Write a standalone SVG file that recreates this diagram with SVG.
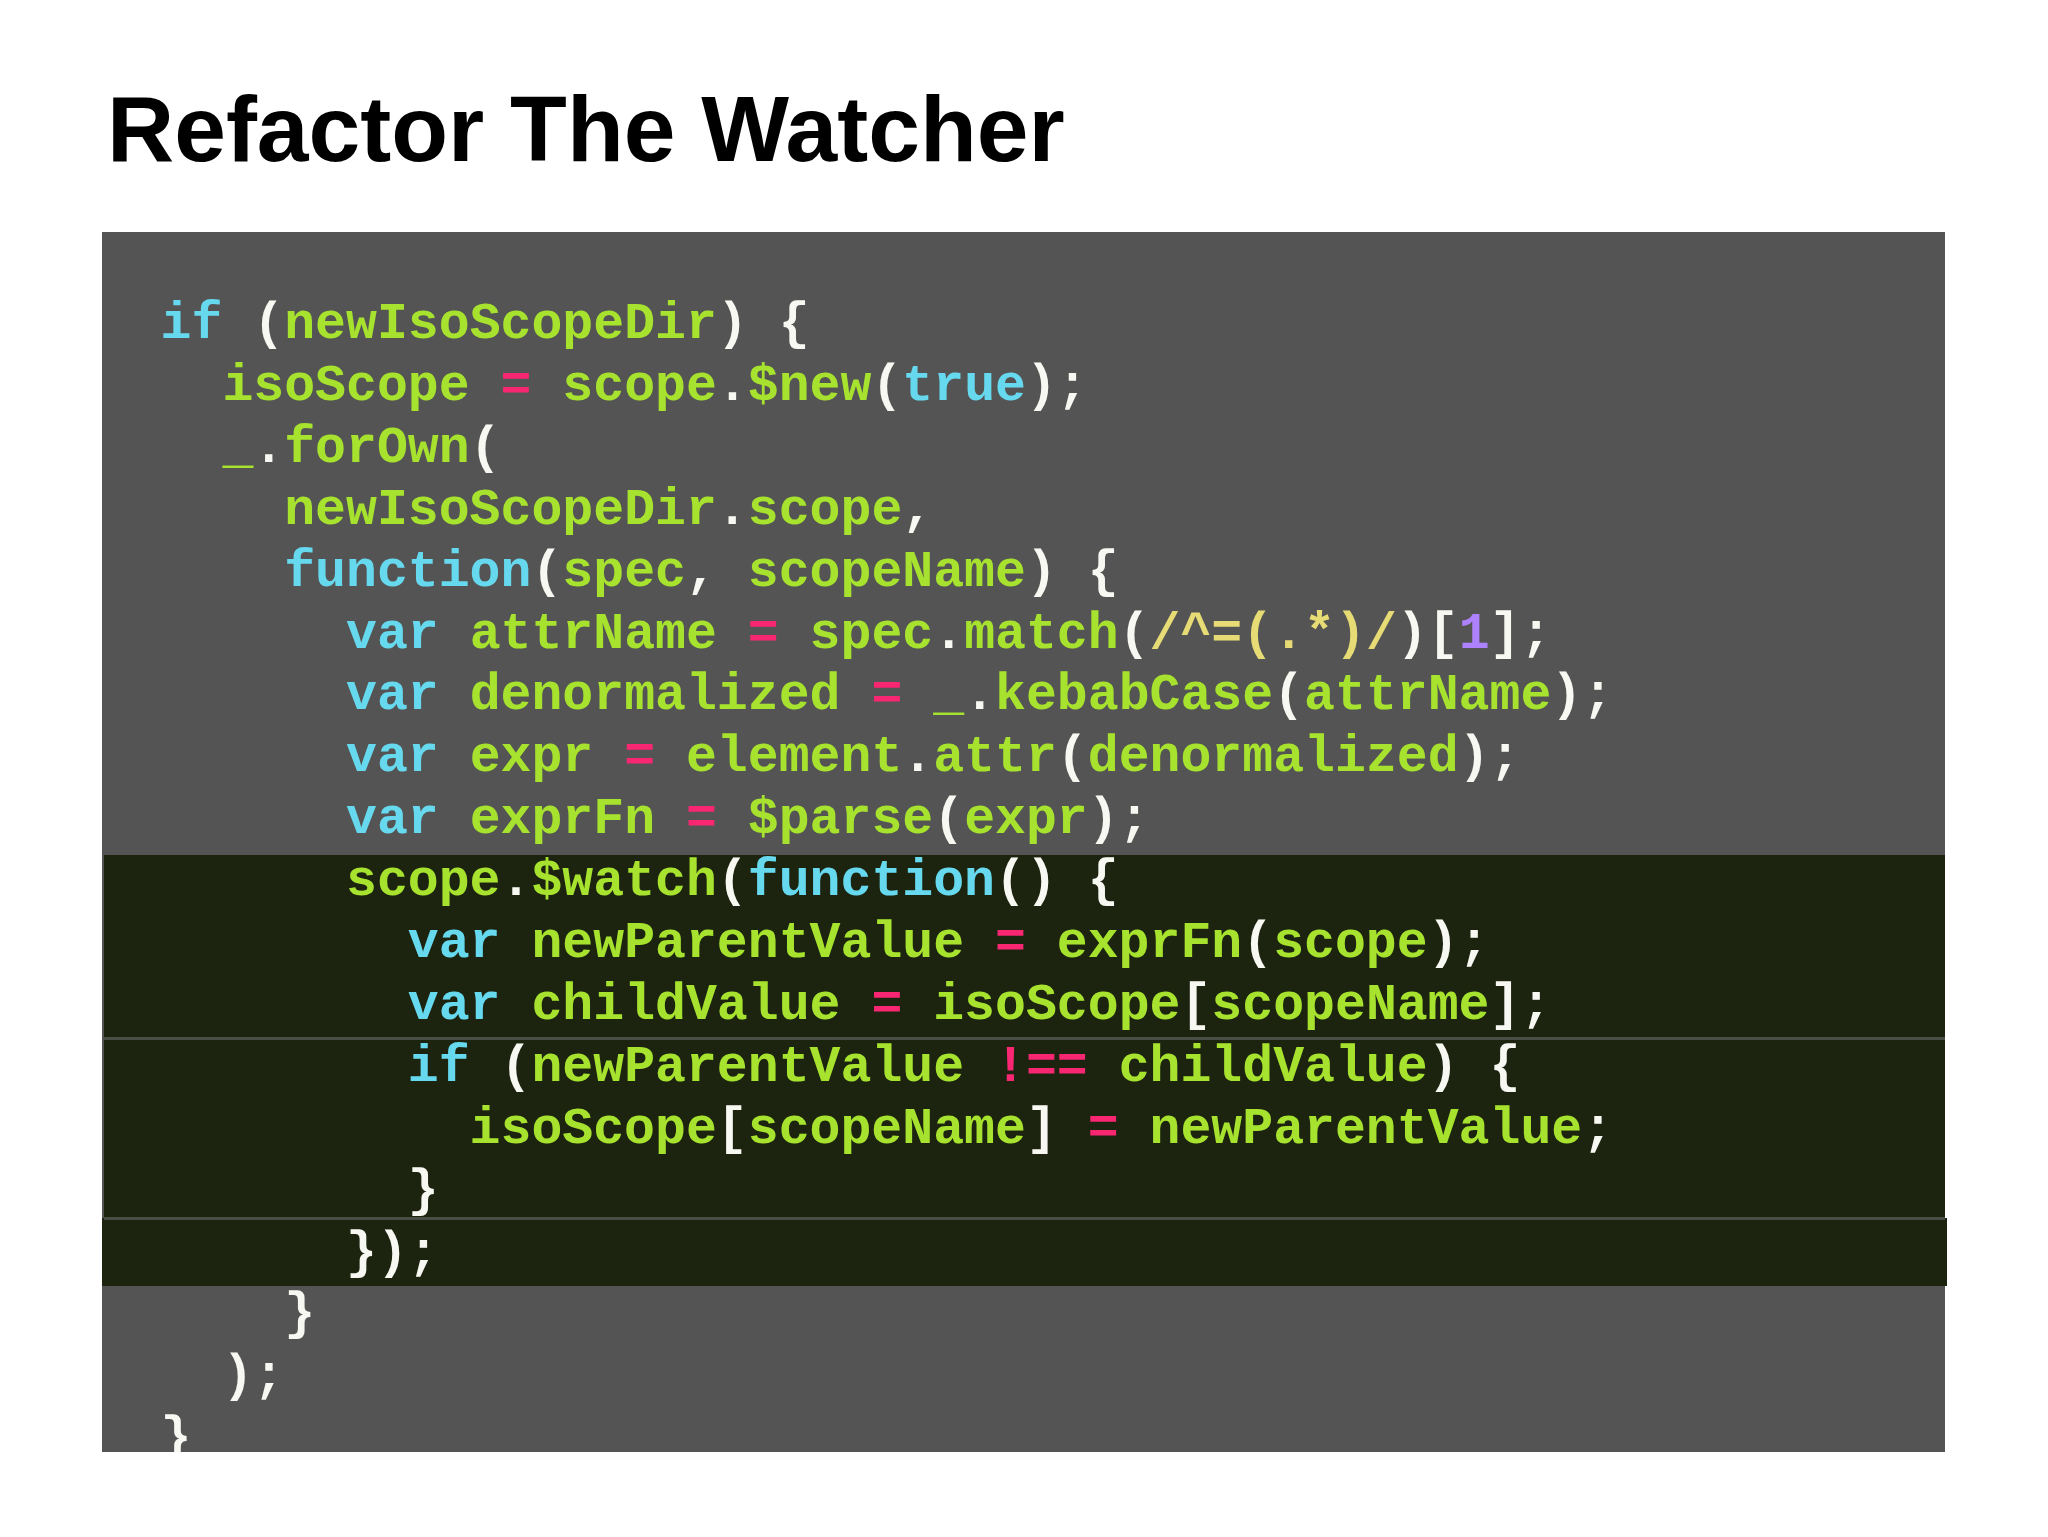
<svg xmlns="http://www.w3.org/2000/svg" width="2048" height="1537" viewBox="0 0 2048 1537">
<style>
.t{font-family:"Liberation Sans",Arial,sans-serif;font-weight:bold;font-size:93px;fill:#000}
.c{font-family:"Liberation Mono","Courier New",monospace;font-weight:bold;font-size:51.5px;fill:#f8f8f2;white-space:pre}
.k{fill:#66d9ef}.g{fill:#a6e22e}.p{fill:#f92672}.y{fill:#e6db74}.v{fill:#ae81ff}
</style>
<defs><clipPath id="box"><rect x="102" y="232" width="1843" height="1220"/></clipPath></defs>
<rect width="2048" height="1537" fill="#fff"/>
<text class="t" x="107" y="161">Refactor The Watcher</text>
<g id="codebox">
<rect x="102" y="232" width="1843" height="1220" fill="#545454"/>
<rect x="104" y="855" width="1841" height="431" fill="#1c2410"/>
<rect x="102" y="1218" width="1845" height="68" fill="#1c2410"/>
<rect x="104" y="1037" width="1841" height="3" fill="#4a4f46"/>
<rect x="104" y="1217" width="1841" height="3" fill="#4a4f46"/>
</g>
<g id="code" clip-path="url(#box)" xml:space="preserve">
<text class="c" x="160.6" y="338"><tspan class="k">if</tspan> (<tspan class="g">newIsoScopeDir</tspan>) {</text>
<text class="c" x="222.4" y="400"><tspan class="g">isoScope</tspan> <tspan class="p">=</tspan> <tspan class="g">scope</tspan>.<tspan class="g">$new</tspan>(<tspan class="k">true</tspan>);</text>
<text class="c" x="222.4" y="462"><tspan class="g">_</tspan>.<tspan class="g">forOwn</tspan>(</text>
<text class="c" x="284.2" y="524"><tspan class="g">newIsoScopeDir</tspan>.<tspan class="g">scope</tspan>,</text>
<text class="c" x="284.2" y="586"><tspan class="k">function</tspan>(<tspan class="g">spec</tspan>, <tspan class="g">scopeName</tspan>) {</text>
<text class="c" x="346" y="648"><tspan class="k">var</tspan> <tspan class="g">attrName</tspan> <tspan class="p">=</tspan> <tspan class="g">spec</tspan>.<tspan class="g">match</tspan>(<tspan class="y">/^=(.*)/</tspan>)[<tspan class="v">1</tspan>];</text>
<text class="c" x="346" y="709"><tspan class="k">var</tspan> <tspan class="g">denormalized</tspan> <tspan class="p">=</tspan> <tspan class="g">_</tspan>.<tspan class="g">kebabCase</tspan>(<tspan class="g">attrName</tspan>);</text>
<text class="c" x="346" y="771"><tspan class="k">var</tspan> <tspan class="g">expr</tspan> <tspan class="p">=</tspan> <tspan class="g">element</tspan>.<tspan class="g">attr</tspan>(<tspan class="g">denormalized</tspan>);</text>
<text class="c" x="346" y="833"><tspan class="k">var</tspan> <tspan class="g">exprFn</tspan> <tspan class="p">=</tspan> <tspan class="g">$parse</tspan>(<tspan class="g">expr</tspan>);</text>
<text class="c" x="346" y="895"><tspan class="g">scope</tspan>.<tspan class="g">$watch</tspan>(<tspan class="k">function</tspan>() {</text>
<text class="c" x="407.8" y="957"><tspan class="k">var</tspan> <tspan class="g">newParentValue</tspan> <tspan class="p">=</tspan> <tspan class="g">exprFn</tspan>(<tspan class="g">scope</tspan>);</text>
<text class="c" x="407.8" y="1019"><tspan class="k">var</tspan> <tspan class="g">childValue</tspan> <tspan class="p">=</tspan> <tspan class="g">isoScope</tspan>[<tspan class="g">scopeName</tspan>];</text>
<text class="c" x="407.8" y="1081"><tspan class="k">if</tspan> (<tspan class="g">newParentValue</tspan> <tspan class="p">!==</tspan> <tspan class="g">childValue</tspan>) {</text>
<text class="c" x="469.6" y="1143"><tspan class="g">isoScope</tspan>[<tspan class="g">scopeName</tspan>] <tspan class="p">=</tspan> <tspan class="g">newParentValue</tspan>;</text>
<text class="c" x="407.8" y="1205">}</text>
<text class="c" x="346" y="1267">});</text>
<text class="c" x="284.2" y="1328">}</text>
<text class="c" x="222.4" y="1390">);</text>
<text class="c" x="160.6" y="1452">}</text>
</g>
</svg>
